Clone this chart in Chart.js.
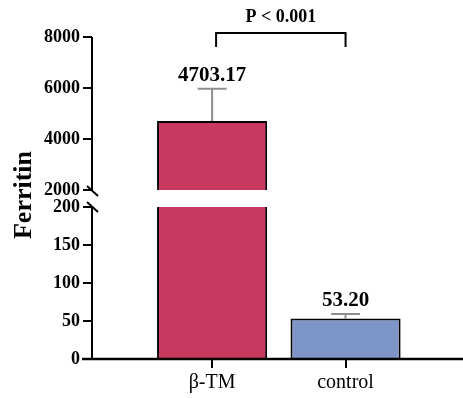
<!DOCTYPE html>
<html>
<head>
<meta charset="utf-8">
<script src="https://cdn.jsdelivr.net/npm/chart.js@4"></script>
<style>
html, body { margin: 0; padding: 0; background: #fff; }
#wrap { width: 463px; height: 398px; }
</style>
</head>
<body>
<div id="wrap"><canvas id="ferritinChart"></canvas></div>
<script>
// values
const groups = ['β-TM', 'control'];
const ferritinMean = [4703.17, 53.20];
const ferritinSd = [1265, 6];
const valueLabels = ['4703.17', '53.20'];
const barColors = ['#C8385F', '#7D95C7'];
const lowTicks = [0, 50, 100, 150, 200];
const highTicks = [2000, 4000, 6000, 8000];
const pLabel = 'P < 0.001';
const yTitle = 'Ferritin';

// broken axis: 0-200 below, 2000-8000 above
const lowMax = 200;
const highBreak = 2000;
const highMax = 8000;
const highMin = 1333; // leaves the white gap under the break

const SERIF = '"Liberation Serif", "Times New Roman", serif';

function lowBorder(ctx) {
    // the clipped bar has no top edge at the break
    if (ferritinMean[ctx.raw.x] > lowMax) return { left: 2, right: 2, top: 0, bottom: 0 };
    return { left: 2, right: 2, top: 2, bottom: 0 };
}

const lowData = groups.map((g, i) => ({ x: i, y: Math.min(ferritinMean[i], lowMax) }));
const highData = groups
    .map((g, i) => ({ x: i, y: [highBreak, ferritinMean[i]] }))
    .filter(d => d.y[1] > lowMax);

const annotate = {
    id: 'annotate',
    afterDatasetsDraw(chart) {
        const { ctx, chartArea, scales } = chart;
        const xs = scales.x, hi = scales.yHigh, lo = scales.yLow;
        const yOf = v => (v > lowMax ? hi.getPixelForValue(v) : lo.getPixelForValue(v));
        const ax = chartArea.left;
        ctx.save();

        // y axis, two pieces with break marks
        ctx.strokeStyle = '#000';
        ctx.lineWidth = 2;
        const yTop = hi.getPixelForValue(highMax);
        const yBrk1 = hi.getPixelForValue(highBreak);
        const yBrk2 = lo.getPixelForValue(lowMax);
        const y0 = lo.getPixelForValue(0);
        ctx.beginPath();
        ctx.moveTo(ax, yTop); ctx.lineTo(ax, yBrk1);
        ctx.moveTo(ax, yBrk2); ctx.lineTo(ax, y0);
        ctx.moveTo(ax - 5, yBrk1 - 4); ctx.lineTo(ax + 6, yBrk1 + 6);
        ctx.moveTo(ax - 5, yBrk2 - 5); ctx.lineTo(ax + 6, yBrk2 + 5);
        ctx.stroke();

        // x axis
        ctx.lineWidth = 2.5;
        ctx.beginPath();
        ctx.moveTo(ax - 10, y0); ctx.lineTo(chartArea.right, y0);
        ctx.stroke();

        // error bars + value labels
        ctx.textAlign = 'center';
        ctx.textBaseline = 'alphabetic';
        ctx.font = 'bold 21px ' + SERIF;
        groups.forEach((g, i) => {
            const px = xs.getPixelForValue(i);
            const yMean = yOf(ferritinMean[i]);
            const yUp = yOf(ferritinMean[i] + ferritinSd[i]);
            ctx.strokeStyle = '#8f8f8f';
            ctx.lineWidth = 2;
            ctx.beginPath();
            ctx.moveTo(px, yMean); ctx.lineTo(px, yUp);
            ctx.moveTo(px - 14.5, yUp); ctx.lineTo(px + 14.5, yUp);
            ctx.stroke();
            ctx.fillStyle = '#000';
            ctx.fillText(valueLabels[i], px, yUp - 8);
        });

        // significance bracket
        const bx1 = xs.getPixelForValue(0) + 4;
        const bx2 = xs.getPixelForValue(1);
        const by = chartArea.top - 4;
        ctx.strokeStyle = '#000';
        ctx.lineWidth = 2;
        ctx.beginPath();
        ctx.moveTo(bx1, by + 14); ctx.lineTo(bx1, by); ctx.lineTo(bx2, by); ctx.lineTo(bx2, by + 14);
        ctx.stroke();
        ctx.font = 'bold 18px ' + SERIF;
        ctx.fillText(pLabel, (bx1 + bx2) / 2, chartArea.top - 15);

        // y title over both axis pieces
        ctx.font = 'bold 26px ' + SERIF;
        ctx.translate(24, (chartArea.top + chartArea.bottom) / 2 - 3);
        ctx.rotate(-Math.PI / 2);
        ctx.textBaseline = 'middle';
        ctx.fillText(yTitle, 0, 0);
        ctx.restore();
    }
};

const yTickStyle = {
    color: '#000',
    padding: 3,
    autoSkip: false,
    font: { family: SERIF, size: 18, weight: 'bold' },
    callback: v => String(v)
};
const yGrid = { drawOnChartArea: false, color: '#000', lineWidth: 2, tickLength: 9 };

new Chart(document.getElementById('ferritinChart'), {
    type: 'bar',
    data: {
        datasets: [
            {
                data: highData,
                yAxisID: 'yHigh',
                backgroundColor: ctx => barColors[ctx.raw.x],
                borderColor: '#000',
                borderWidth: { left: 2, right: 2, top: 2, bottom: 0 },
                borderSkipped: false
            },
            {
                data: lowData,
                yAxisID: 'yLow',
                backgroundColor: ctx => barColors[ctx.raw.x],
                borderColor: '#000',
                borderWidth: lowBorder,
                borderSkipped: false
            }
        ]
    },
    options: {
        responsive: true,
        maintainAspectRatio: false,
        animation: false,
        events: [],
        grouped: false,
        barPercentage: 1,
        categoryPercentage: 0.825,
        layout: { padding: { top: 37, right: 0, left: 0, bottom: 0 } },
        plugins: { legend: { display: false }, tooltip: { enabled: false } },
        scales: {
            x: {
                type: 'linear',
                min: -0.9,
                max: 1.88,
                offset: false,
                border: { display: false },
                grid: { drawOnChartArea: false, offset: false, color: '#000', lineWidth: 2, tickLength: 9 },
                afterBuildTicks: s => { s.ticks = groups.map((g, i) => ({ value: i })); },
                afterFit: s => { s.height = 39; },
                ticks: {
                    color: '#000',
                    padding: 3,
                    autoSkip: false,
                    maxRotation: 0,
                    font: { family: SERIF, size: 20 },
                    callback: v => groups[v]
                }
            },
            // stacked axes: the one listed first ends up at the bottom
            yLow: {
                type: 'linear',
                position: 'left',
                stack: 'ferritin',
                stackWeight: 152,
                min: 0,
                max: lowMax,
                border: { display: false },
                grid: yGrid,
                afterBuildTicks: s => { s.ticks = lowTicks.map(v => ({ value: v })); },
                afterFit: s => { s.width = 92; },
                ticks: yTickStyle
            },
            yHigh: {
                type: 'linear',
                position: 'left',
                stack: 'ferritin',
                stackWeight: 170,
                min: highMin,
                max: highMax,
                border: { display: false },
                grid: yGrid,
                afterBuildTicks: s => { s.ticks = highTicks.map(v => ({ value: v })); },
                afterFit: s => { s.width = 92; },
                ticks: yTickStyle
            }
        }
    },
    plugins: [annotate]
});
</script>
</body>
</html>
